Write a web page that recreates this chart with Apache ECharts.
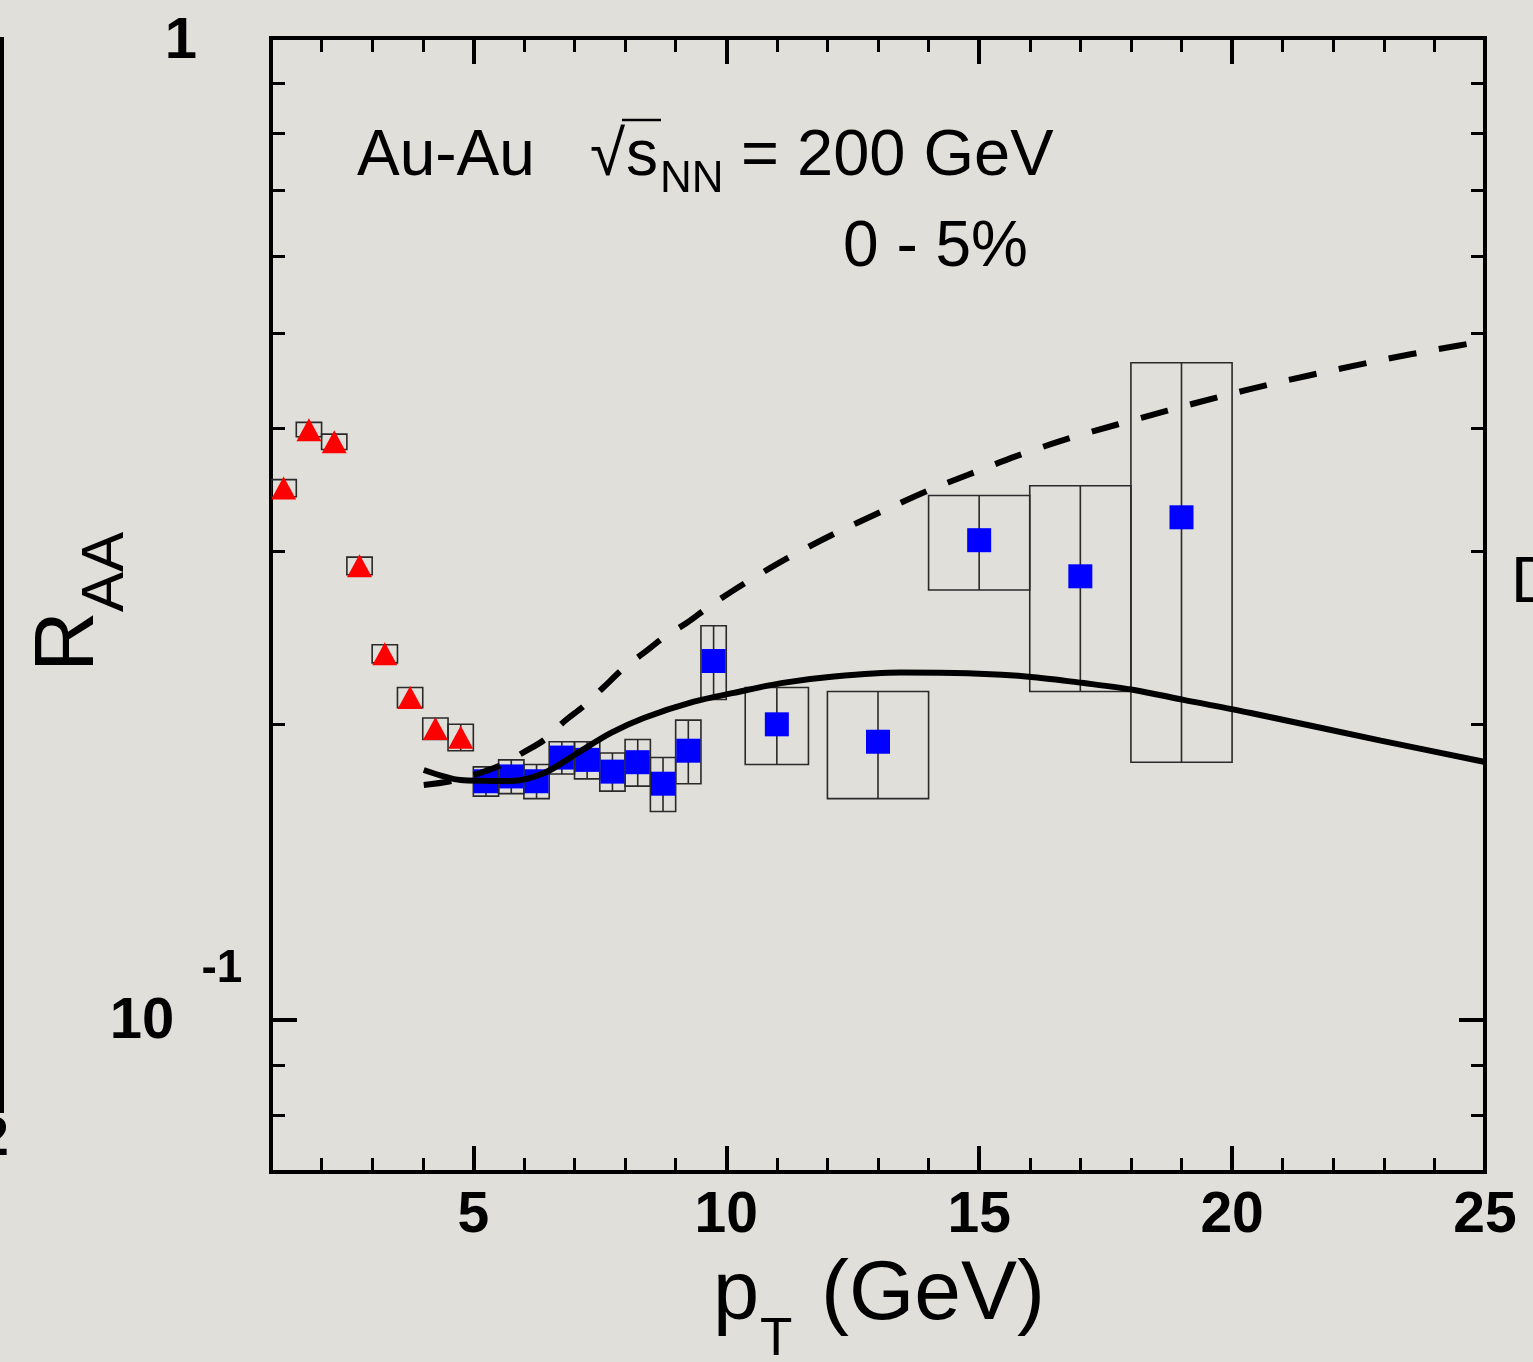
<!DOCTYPE html>
<html>
<head>
<meta charset="utf-8">
<script src="https://cdn.jsdelivr.net/npm/echarts@6/dist/echarts.min.js"></script>
<style>
  html, body { margin: 0; padding: 0; background: #e0dfda; }
  #chart { width: 1533px; height: 1362px; }
</style>
</head>
<body>
<div id="chart"></div>
<script>
// ---- Data: R_AA vs pT, Au-Au 200 GeV, 0-5% ----
// low-pT points (red triangles)
const triX     = [1.25, 1.75, 2.25, 2.75, 3.25, 3.75, 4.25, 4.75];
const triY     = [0.348, 0.399, 0.388, 0.290, 0.236, 0.213, 0.198, 0.194];
const triSysLo = [0.341, 0.3925, 0.381, 0.284, 0.231, 0.208, 0.193, 0.188];
const triSysHi = [0.355, 0.406, 0.395, 0.296, 0.241, 0.218, 0.203, 0.200];
const triHalfW = [0.25, 0.25, 0.25, 0.25, 0.25, 0.25, 0.25, 0.25];

// high-pT points (blue squares)
const sqX     = [5.25, 5.75, 6.25, 6.75, 7.25, 7.75, 8.25, 8.75, 9.25, 9.75, 11, 13, 15, 17, 19];
const sqY     = [0.175, 0.177, 0.175, 0.185, 0.184, 0.179, 0.183, 0.174, 0.188, 0.232, 0.200, 0.192, 0.308, 0.283, 0.325];
const sqSysLo = [0.169, 0.170, 0.168, 0.178, 0.176, 0.171, 0.173, 0.163, 0.174, 0.212, 0.182, 0.168, 0.274, 0.216, 0.183];
const sqSysHi = [0.181, 0.184, 0.182, 0.192, 0.192, 0.187, 0.193, 0.185, 0.202, 0.252, 0.218, 0.216, 0.342, 0.350, 0.467];
const sqHalfW = [0.25, 0.25, 0.25, 0.25, 0.25, 0.25, 0.25, 0.25, 0.25, 0.25, 0.625, 1, 1, 1, 1];

// model curves
const solidX = [4.02, 4.75, 5.21, 5.74, 6.40, 7.06, 7.72, 8.37, 9.36, 10.15, 11.12, 12.13, 13.45, 14.77, 16.08, 17.07, 18.06, 19.04, 20.37, 22.94, 25.0];
const solidY = [0.1797, 0.1755, 0.1752, 0.1751, 0.1784, 0.1870, 0.1960, 0.2030, 0.2109, 0.2153, 0.2204, 0.2237, 0.2258, 0.2254, 0.2234, 0.2203, 0.2168, 0.2118, 0.2054, 0.1925, 0.1831];
const dashX  = [4.02, 4.52, 5.01, 5.55, 5.97, 6.40, 6.79, 7.21, 7.58, 7.98, 8.37, 8.79, 9.23, 9.66, 10.31, 11.20, 12.13, 13.08, 14.00, 14.77, 15.72, 16.71, 17.73, 18.72, 19.73, 20.98, 22.01, 23.02, 24.04, 25.0];
const dashY  = [0.1735, 0.1749, 0.1776, 0.1818, 0.1870, 0.1928, 0.2012, 0.2093, 0.2183, 0.2283, 0.2365, 0.2457, 0.2539, 0.2636, 0.2773, 0.2951, 0.3126, 0.3295, 0.3461, 0.3589, 0.3749, 0.3901, 0.4040, 0.4173, 0.4309, 0.4468, 0.4590, 0.4707, 0.4817, 0.4915];

// axis ticks
const xMajorTicks = [5, 10, 15, 20, 25];
const yMajorTicks = [0.1, 1];
const yMinorTicks = [0.08, 0.09, 0.2, 0.3, 0.4, 0.5, 0.6, 0.7, 0.8, 0.9];

// ---- Chart ----
const FONT = '"Liberation Sans", Arial, Helvetica, sans-serif';
const chart = echarts.init(document.getElementById('chart'), null, { renderer: 'canvas' });

const zip = (xs, ys) => xs.map((x, i) => [x, ys[i]]);
const boxRows = (xs, lo, hi, hw) => xs.map((x, i) => [x, lo[i], hi[i], hw[i]]);

function renderSysBox(params, api) {
  const x = api.value(0), lo = api.value(1), hi = api.value(2), hw = api.value(3);
  const a = api.coord([x - hw, hi]);
  const b = api.coord([x + hw, lo]);
  const c = api.coord([x, hi]);
  const st = { fill: null, stroke: '#2a2a2a', lineWidth: 1.6 };
  return {
    type: 'group',
    children: [
      { type: 'rect', shape: { x: a[0], y: a[1], width: b[0] - a[0], height: b[1] - a[1] }, style: st },
      { type: 'line', shape: { x1: c[0], y1: a[1], x2: c[0], y2: b[1] }, style: st }
    ]
  };
}

const tickMajor = { color: '#000', width: 4 };
const tickMinor = { color: '#000', width: 3 };
const xBase = { type: 'value', min: 1, max: 25, axisLine: { show: false }, splitLine: { show: false } };
const yBase = { type: 'log', logBase: 10, min: 0.07, max: 1, axisLine: { show: false }, splitLine: { show: false }, axisLabel: { show: false } };

chart.setOption({
  animation: false,
  backgroundColor: '#e0dfda',
  grid: { left: 271, right: 48, top: 38, bottom: 190, show: true, borderColor: '#000', borderWidth: 4, backgroundColor: 'transparent' },
  xAxis: [
    Object.assign({}, xBase, {
      position: 'bottom',
      axisTick: { show: true, inside: true, length: 26, customValues: xMajorTicks, lineStyle: tickMajor },
      axisLabel: { show: true, customValues: xMajorTicks, margin: 16, color: '#000', fontFamily: FONT, fontWeight: 'bold', fontSize: 57 }
    }),
    Object.assign({}, xBase, {
      position: 'bottom', interval: 1,
      axisTick: { show: true, inside: true, length: 14, lineStyle: tickMinor },
      axisLabel: { show: false }
    }),
    Object.assign({}, xBase, {
      position: 'top',
      axisTick: { show: true, inside: true, length: 26, customValues: xMajorTicks, lineStyle: tickMajor },
      axisLabel: { show: false }
    }),
    Object.assign({}, xBase, {
      position: 'top', interval: 1,
      axisTick: { show: true, inside: true, length: 14, lineStyle: tickMinor },
      axisLabel: { show: false }
    })
  ],
  yAxis: [
    Object.assign({}, yBase, { position: 'left',
      axisTick: { show: true, inside: true, length: 26, customValues: yMajorTicks, lineStyle: tickMajor } }),
    Object.assign({}, yBase, { position: 'left',
      axisTick: { show: true, inside: true, length: 14, customValues: yMinorTicks, lineStyle: tickMinor } }),
    Object.assign({}, yBase, { position: 'right',
      axisTick: { show: true, inside: true, length: 26, customValues: yMajorTicks, lineStyle: tickMajor } }),
    Object.assign({}, yBase, { position: 'right',
      axisTick: { show: true, inside: true, length: 14, customValues: yMinorTicks, lineStyle: tickMinor } })
  ],
  series: [
    { type: 'custom', name: 'sysLow', clip: true, renderItem: renderSysBox, encode: { x: 0, y: [1, 2] },
      data: boxRows(triX, triSysLo, triSysHi, triHalfW), z: 2 },
    { type: 'custom', name: 'sysHigh', clip: true, renderItem: renderSysBox, encode: { x: 0, y: [1, 2] },
      data: boxRows(sqX, sqSysLo, sqSysHi, sqHalfW), z: 2 },
    { type: 'scatter', name: 'low pT', symbol: 'triangle', symbolSize: [25, 23],
      itemStyle: { color: '#ff0000', opacity: 1 }, data: zip(triX, triY), z: 3 },
    { type: 'scatter', name: 'high pT', symbol: 'rect', symbolSize: 24,
      itemStyle: { color: '#0000ff', opacity: 1 }, data: zip(sqX, sqY), z: 3 },
    { type: 'line', name: 'model A', showSymbol: false, smooth: 0.3, clip: true,
      lineStyle: { color: '#000', width: 6, type: 'solid' }, data: zip(solidX, solidY), z: 4 },
    { type: 'line', name: 'model B', showSymbol: false, smooth: 0.3, clip: true,
      lineStyle: { color: '#000', width: 6, type: [28, 23] }, data: zip(dashX, dashY), z: 4 }
  ]
});

// ---- Text: tick labels on the log axis, titles, annotations ----
const y1  = chart.convertToPixel({ yAxisIndex: 0 }, 1);
const y01 = chart.convertToPixel({ yAxisIndex: 0 }, 0.1);

function txt(x, y, text, size, opts) {
  opts = opts || {};
  return {
    type: 'text', x: x, y: y, rotation: opts.rotation || 0, z: 10,
    style: {
      text: text, fill: '#000',
      font: (opts.bold ? 'bold ' : '') + size + 'px ' + FONT,
      textAlign: opts.align || 'left', textVerticalAlign: 'middle'
    }
  };
}

chart.setOption({
  graphic: [
    // y tick labels
    txt(181, y1 + 4, '1', 58, { bold: true, align: 'center' }),
    txt(142, y01 + 2, '10', 58, { bold: true, align: 'center' }),
    txt(222, y01 - 51, '-1', 46, { bold: true, align: 'center' }),
    // axis titles
    txt(713, 1296, 'p', 83),
    txt(760, 1340, 'T', 53),
    txt(821, 1296, '(GeV)', 84),
    txt(70, 672, 'R', 84, { rotation: Math.PI / 2 }),
    txt(106, 612, 'AA', 60, { rotation: Math.PI / 2 }),
    // collision system
    txt(357, 157, 'Au-Au', 64),
    txt(590, 157, '\u221A', 64),
    { type: 'line', z: 10, shape: { x1: 622, y1: 120, x2: 661, y2: 120 }, style: { stroke: '#000', lineWidth: 2.5 } },
    txt(626, 157, 's', 64),
    txt(660, 180, 'NN', 44),
    txt(741, 157, '= 200 GeV', 65),
    txt(843, 248, '0 - 5%', 64),
    // neighbouring panels at the page edges
    { type: 'rect', z: 10, shape: { x: 0, y: 37, width: 4, height: 1076 }, style: { fill: '#000' } },
    txt(9, 1140, '2', 56, { bold: true, align: 'right' }),
    txt(1511, 584, 'D', 64)
  ]
});
</script>
</body>
</html>
